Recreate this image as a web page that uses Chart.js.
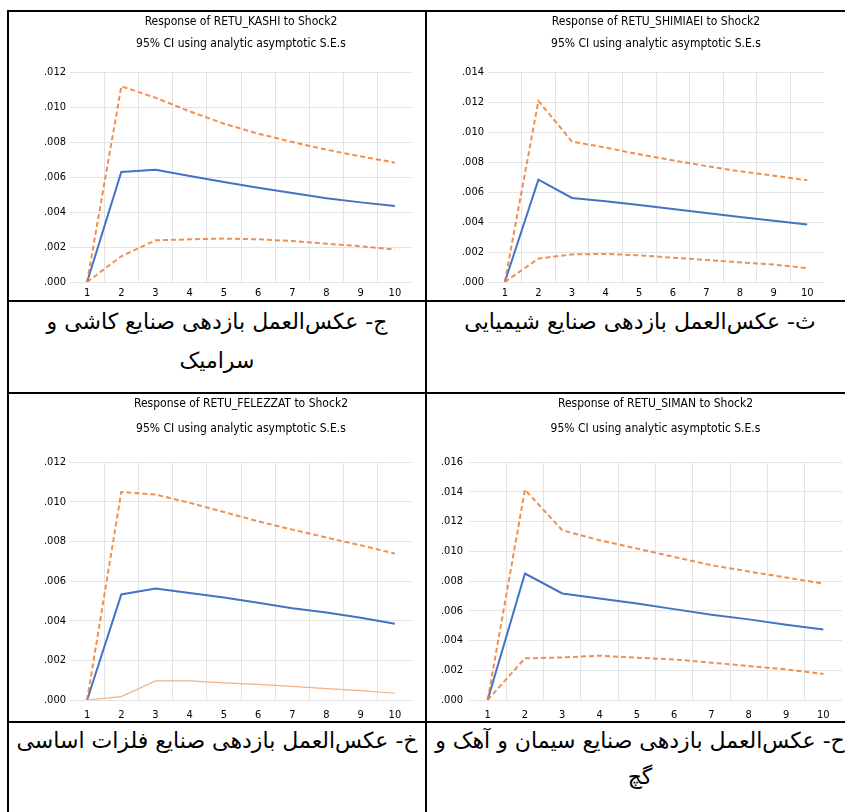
<!DOCTYPE html>
<html><head><meta charset="utf-8">
<script src="https://cdn.jsdelivr.net/npm/chart.js@4"></script>
<style>
html,body{margin:0;padding:0;background:#fff}
body{width:845px;height:812px;overflow:hidden;position:relative}
.ln{position:absolute;background:#000}
canvas{position:absolute}
.cap{position:absolute;direction:rtl;text-align:center;font-family:'DejaVu Sans',sans-serif;font-size:22px;line-height:40px;height:40px;color:#000;white-space:nowrap}
</style></head><body>
<div class="ln" style="left:7px;top:10px;width:838px;height:2px"></div>
<div class="ln" style="left:7px;top:10px;width:2px;height:802px"></div>
<div class="ln" style="left:425px;top:10px;width:2px;height:802px"></div>
<div class="ln" style="left:7px;top:300px;width:838px;height:2px"></div>
<div class="ln" style="left:7px;top:392px;width:838px;height:2px"></div>
<div class="ln" style="left:7px;top:721px;width:838px;height:2px"></div>

<canvas id="c1" width="416" height="288" style="left:9px;top:12px"></canvas>
<canvas id="c2" width="417" height="288" style="left:428px;top:12px"></canvas>
<canvas id="c3" width="416" height="327" style="left:9px;top:394px"></canvas>
<canvas id="c4" width="417" height="327" style="left:428px;top:394px"></canvas>

<div class="cap" style="left:9px;width:416px;top:302px">ج- عکس‌العمل بازدهی صنایع کاشی و</div>
<div class="cap" style="left:9px;width:416px;top:341px">سرامیک</div>
<div class="cap" style="left:427px;width:426px;top:302px">ث- عکس‌العمل بازدهی صنایع شیمیایی</div>
<div class="cap" style="left:9px;width:416px;top:721px">خ- عکس‌العمل بازدهی صنایع فلزات اساسی</div>
<div class="cap" style="left:427px;width:426px;top:721px">ح- عکس‌العمل بازدهی صنایع سیمان و آهک و</div>
<div class="cap" style="left:427px;width:426px;top:757px">گچ</div>

<script>
const periods = ['1','2','3','4','5','6','7','8','9','10'];

const kashiTitle = ['Response of RETU_KASHI to Shock2', '95% CI using analytic asymptotic S.E.s'];
const kashiResp  = [0, 0.00629, 0.00642, 0.00606, 0.00571, 0.00539, 0.00509, 0.00478, 0.00455, 0.00434];
const kashiUpper = [0, 0.01118, 0.01053, 0.00975, 0.00905, 0.00848, 0.00800, 0.00756, 0.00718, 0.00682];
const kashiLower = [0, 0.00147, 0.00238, 0.00244, 0.00248, 0.00244, 0.00234, 0.00219, 0.00204, 0.00185];
const kashiYTicks = [0, 0.002, 0.004, 0.006, 0.008, 0.010, 0.012];

const shimiTitle = ['Response of RETU_SHIMIAEI to Shock2', '95% CI using analytic asymptotic S.E.s'];
const shimiResp  = [0, 0.00682, 0.00560, 0.00538, 0.00513, 0.00487, 0.00460, 0.00433, 0.00409, 0.00384];
const shimiUpper = [0, 0.01207, 0.00936, 0.00896, 0.00851, 0.00811, 0.00773, 0.00738, 0.00709, 0.00678];
const shimiLower = [0, 0.00156, 0.00184, 0.00187, 0.00178, 0.00162, 0.00147, 0.00131, 0.00116, 0.00093];
const shimiYTicks = [0, 0.002, 0.004, 0.006, 0.008, 0.010, 0.012, 0.014];

const felezTitle = ['Response of RETU_FELEZZAT to Shock2', '95% CI using analytic asymptotic S.E.s'];
const felezResp  = [0, 0.00532, 0.00562, 0.00540, 0.00517, 0.00490, 0.00463, 0.00441, 0.00415, 0.00384];
const felezUpper = [0, 0.01049, 0.01036, 0.00994, 0.00948, 0.00901, 0.00859, 0.00819, 0.00780, 0.00738];
const felezLower = [0, 0.00017, 0.00096, 0.00096, 0.00086, 0.00079, 0.00069, 0.00057, 0.00047, 0.00034];
const felezYTicks = [0, 0.002, 0.004, 0.006, 0.008, 0.010, 0.012];

const simanTitle = ['Response of RETU_SIMAN to Shock2', '95% CI using analytic asymptotic S.E.s'];
const simanResp  = [0, 0.00850, 0.00716, 0.00683, 0.00649, 0.00611, 0.00573, 0.00542, 0.00506, 0.00474];
const simanUpper = [0, 0.01414, 0.01141, 0.01074, 0.01018, 0.00962, 0.00906, 0.00864, 0.00823, 0.00783];
const simanLower = [0, 0.00280, 0.00286, 0.00298, 0.00284, 0.00273, 0.00251, 0.00228, 0.00206, 0.00175];
const simanYTicks = [0, 0.002, 0.004, 0.006, 0.008, 0.010, 0.012, 0.014, 0.016];

const FONT = "'Liberation Sans Narrow','DejaVu Sans Condensed','Roboto Condensed',Roboto,sans-serif";
const BLUE = '#4472C4';
const ORANGE = 'rgba(237,125,49,0.85)';
const ORANGE_LIGHT = '#F4B183';
const GRID = '#E4E4E4';

function fmt(v){ return v.toFixed(3).replace(/^0/, ''); }

const titlePlugin = {
  id: 'twoLineTitle',
  afterDraw(chart, args, opts) {
    const ctx = chart.ctx, a = chart.chartArea;
    ctx.save();
    ctx.fillStyle = '#000';
    ctx.font = '12px ' + FONT;
    ctx.textAlign = 'center';
    ctx.textBaseline = 'middle';
    const cx = (a.left + a.right) / 2;
    opts.lines.forEach((t, i) => ctx.fillText(t, cx, opts.ys[i]));
    ctx.restore();
  }
};

function makeChart(id, title, resp, upper, lower, yTicks, g, lowerThin) {
  const yMax = yTicks[yTicks.length - 1];
  new Chart(document.getElementById(id), {
    type: 'line',
    data: {
      labels: periods,
      datasets: [
        { data: upper, borderColor: ORANGE, borderWidth: 2, borderDash: [5,3], pointRadius: 0, tension: 0, fill: false },
        lowerThin
          ? { data: lower, borderColor: ORANGE_LIGHT, borderWidth: 1.2, pointRadius: 0, tension: 0, fill: false }
          : { data: lower, borderColor: ORANGE, borderWidth: 2, borderDash: [5,3], pointRadius: 0, tension: 0, fill: false },
        { data: resp, borderColor: BLUE, borderWidth: 2, pointRadius: 0, tension: 0, fill: false }
      ]
    },
    options: {
      responsive: false,
      animation: false,
      devicePixelRatio: 1,
      layout: { padding: { top: g.top, right: g.right, left: 0, bottom: 0 } },
      plugins: {
        legend: { display: false },
        tooltip: { enabled: false },
        twoLineTitle: { lines: title, ys: g.titleYs }
      },
      scales: {
        x: {
          offset: true,
          grid: {
            offset: true,
            drawTicks: false,
            color: (c) => (c.type !== 'tick' || c.index === 0) ? 'rgba(0,0,0,0)' : GRID,
            lineWidth: 1
          },
          border: { display: false },
          ticks: { color: '#000', font: { family: FONT, size: 11 }, padding: g.xPad, maxRotation: 0, autoSkip: false },
          afterFit(s) { s.height = g.xH; }
        },
        y: {
          min: 0, max: yMax,
          afterBuildTicks(s) { s.ticks = yTicks.map(v => ({ value: v })); },
          grid: { drawTicks: false, color: GRID, lineWidth: 1 },
          border: { display: false },
          ticks: { color: '#000', font: { family: FONT, size: 11 }, padding: g.yPad, callback: (v) => fmt(v) },
          afterFit(s) { s.width = g.yW; }
        }
      }
    },
    plugins: [titlePlugin]
  });
}

makeChart('c1', kashiTitle, kashiResp, kashiUpper, kashiLower, kashiYTicks,
  { top: 60, right: 13, yW: 61, xH: 18, xPad: 5, yPad: 4, titleYs: [10, 31.5] }, false);
makeChart('c2', shimiTitle, shimiResp, shimiUpper, shimiLower, shimiYTicks,
  { top: 60, right: 21, yW: 60, xH: 18, xPad: 5, yPad: 4, titleYs: [10, 31.5] }, false);
makeChart('c3', felezTitle, felezResp, felezUpper, felezLower, felezYTicks,
  { top: 68, right: 13, yW: 61, xH: 21, xPad: 9, yPad: 4, titleYs: [9.5, 34.5] }, true);
makeChart('c4', simanTitle, simanResp, simanUpper, simanLower, simanYTicks,
  { top: 68, right: 3, yW: 41, xH: 21, xPad: 9, yPad: 6, titleYs: [9.5, 34.5] }, false);
</script>
</body></html>
